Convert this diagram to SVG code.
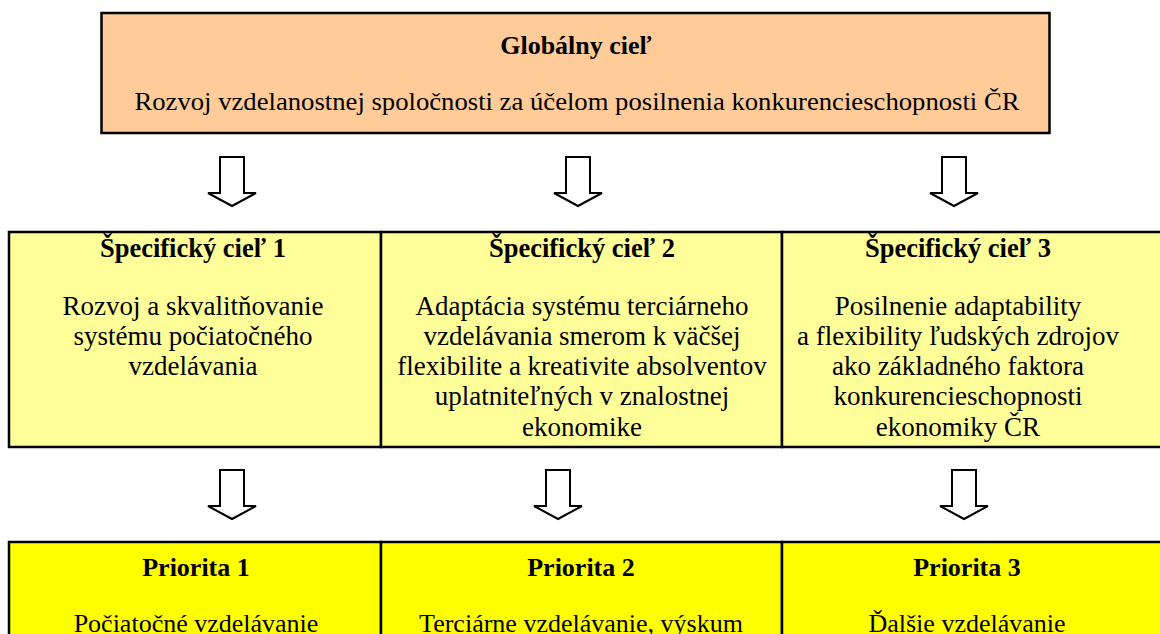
<svg xmlns="http://www.w3.org/2000/svg" width="1160" height="634" viewBox="0 0 1160 634">
<style>
.box{stroke:#000;stroke-width:2.5}
text{font-family:"Liberation Serif","Times New Roman",Times,serif;fill:#000;text-anchor:middle}
.b{font-weight:bold}
.s{font-size:27px}
.h{font-size:26.5px}
.g{font-size:26px}
.p{font-size:26px}
.arr{fill:#fff;stroke:#000;stroke-width:2;stroke-linejoin:miter}
</style>
<rect width="1160" height="634" fill="#fff"/>
<g id="global">
<rect class="box" x="101.5" y="13" width="948" height="120" fill="#FFCC99"/>
<text class="b g" x="576" y="54">Globálny cieľ</text>
<text class="g" x="577" y="110" textLength="885" lengthAdjust="spacingAndGlyphs">Rozvoj vzdelanostnej spoločnosti za účelom posilnenia konkurencieschopnosti ČR</text>
</g>
<g id="spec1">
<rect class="box" x="9" y="232" width="372" height="215" fill="#FFFF99"/>
<text class="b h" x="193" y="257">Špecifický cieľ 1</text>
<text class="s" x="193" y="315">Rozvoj a skvalitňovanie</text>
<text class="s" x="193" y="345">systému počiatočného</text>
<text class="s" x="193" y="375">vzdelávania</text>
</g>
<g id="spec2">
<rect class="box" x="381" y="232" width="401" height="215" fill="#FFFF99"/>
<text class="b h" x="582" y="257">Špecifický cieľ 2</text>
<text class="s" x="582" y="315">Adaptácia systému terciárneho</text>
<text class="s" x="582" y="345">vzdelávania smerom k väčšej</text>
<text class="s" x="582" y="375">flexibilite a kreativite absolventov</text>
<text class="s" x="582" y="405">uplatniteľných v znalostnej</text>
<text class="s" x="582" y="436">ekonomike</text>
</g>
<g id="spec3">
<rect class="box" x="782" y="232" width="390" height="215" fill="#FFFF99"/>
<text class="b h" x="958" y="257">Špecifický cieľ 3</text>
<text class="s" x="958" y="315">Posilnenie adaptability</text>
<text class="s" x="958" y="345">a flexibility ľudských zdrojov</text>
<text class="s" x="958" y="375">ako základného faktora</text>
<text class="s" x="958" y="405">konkurencieschopnosti</text>
<text class="s" x="958" y="436">ekonomiky ČR</text>
</g>
<g id="prio1">
<rect class="box" x="9" y="542" width="372" height="110" fill="#FFFF00"/>
<text class="b p" x="196" y="576">Priorita 1</text>
<text class="p" x="196" y="632">Počiatočné vzdelávanie</text>
</g>
<g id="prio2">
<rect class="box" x="381" y="542" width="401" height="110" fill="#FFFF00"/>
<text class="b p" x="581" y="576">Priorita 2</text>
<text class="p" x="581" y="632">Terciárne vzdelávanie, výskum</text>
</g>
<g id="prio3">
<rect class="box" x="782" y="542" width="390" height="110" fill="#FFFF00"/>
<text class="b p" x="967" y="576">Priorita 3</text>
<text class="p" x="967" y="632">Ďalšie vzdelávanie</text>
</g>
<g id="connectors">
<path class="arr" d="M220,157 H244 V193 H256 L232,206 L208,193 H220 Z"/>
<path class="arr" d="M566,157 H590 V193 H602 L578,206 L554,193 H566 Z"/>
<path class="arr" d="M942,157 H966 V193 H978 L954,206 L930,193 H942 Z"/>
<path class="arr" d="M220,470 H244 V506 H256 L232,519 L208,506 H220 Z"/>
<path class="arr" d="M546,470 H570 V506 H582 L558,519 L534,506 H546 Z"/>
<path class="arr" d="M952,470 H976 V506 H988 L964,519 L940,506 H952 Z"/>
</g>
</svg>
